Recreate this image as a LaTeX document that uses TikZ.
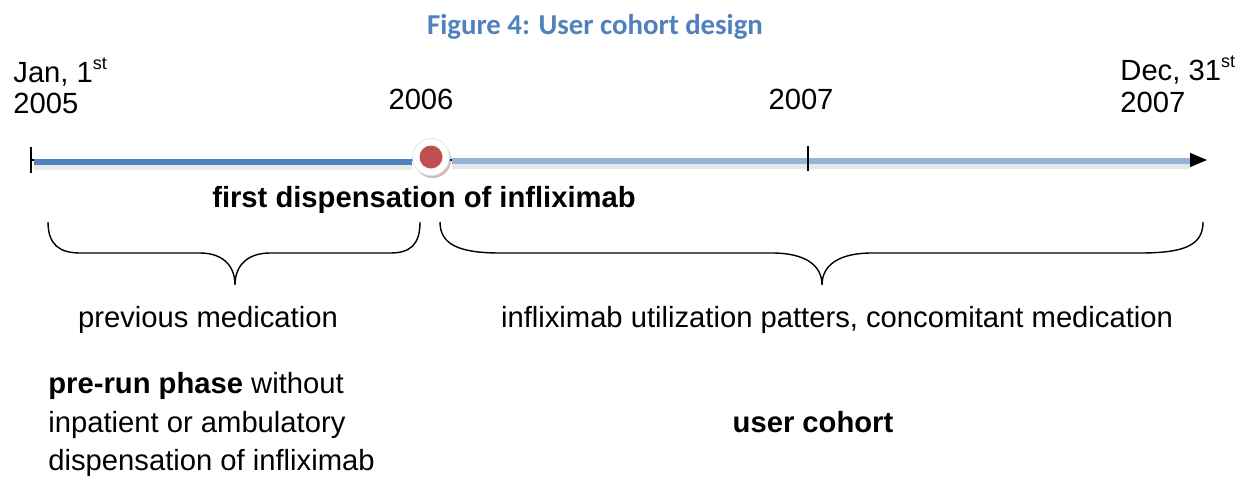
\documentclass[tikz,border=0pt]{standalone}
\usepackage{fontspec}
\setmainfont{Liberation Sans}
\newfontfamily\titlefont{Carlito}
\usetikzlibrary{arrows.meta,shadows}
\definecolor{darkblue}{HTML}{4F81BD}
\definecolor{lightblue}{HTML}{95B3D7}
\definecolor{dotred}{HTML}{C0504D}
\definecolor{titleblue}{HTML}{4F81BD}
\newcommand{\sups}[1]{\raisebox{0.42em}{\fontsize{9}{10}\selectfont #1}}
\begin{document}
\begin{tikzpicture}[x=0.5pt,y=-0.5pt,
  lbl/.style={inner sep=0pt, font=\fontsize{14.6}{17}\selectfont},
  blbl/.style={lbl, font=\fontsize{14.6}{17}\selectfont\bfseries},
  tick/.style={line width=0.75pt},
  bar/.style={line width=3pt},
  barshadow/.style={line width=3pt, black, opacity=0.09},
  brace/.style={line width=0.7pt},
  ring/.style={circle, fill=white, draw=black!10, line width=0.4pt, minimum size=18.5pt, inner sep=0pt,
    drop shadow={opacity=0.45, fill=dotred!45!gray, shadow xshift=0.9pt, shadow yshift=-1.3pt}},
  dot/.style={circle, fill=dotred, minimum size=11.5pt, inner sep=0pt}]
\useasboundingbox (0,0) rectangle (1251,477);

% title
\node[inner sep=0pt, font=\titlefont\bfseries\fontsize{14.4}{17}\selectfont, text=titleblue] (title) at (595,27) {Figure 4: User cohort design};

% timeline coordinates
\coordinate (start) at (31,160);
\coordinate (mid) at (808,160);
\coordinate (end) at (1207,160);

% shadows
\draw[barshadow] (34,167) -- (412,167);
\draw[barshadow] (452,166) -- (1190,166);

% axis
\draw[line width=0.6pt, -{Triangle[length=8.5pt, width=7pt]}] (start) -- (end);
\draw[bar, darkblue] (34,161.5) -- (412,161.5);
\draw[bar, lightblue] (452,161) -- (1190,161);
\draw[tick] (start) ++(0,-13) -- ++(0,26);
\draw[tick] (mid) ++(0,-14) -- ++(0,25);

\node[ring] (event) at (431,157) {};
\node[dot] (eventdot) at (event.center) {};

% date labels
\node[lbl, anchor=base west] (jan) at (13,82) {Jan, 1\sups{st}};
\node[lbl, anchor=base west] (y2005) at (13,113) {2005};
\node[lbl, anchor=base] (y2006) at (421,109) {2006};
\node[lbl, anchor=base] (y2007) at (801,109) {2007};
\node[lbl, anchor=base west] (dec) at (1120,80) {Dec, 31\sups{st}};
\node[lbl, anchor=base west] (y2007b) at (1120,112) {2007};

\node[blbl, anchor=base] (first) at (424,207) {first dispensation of infliximab};

% braces
\draw[brace] (48,222) .. controls (48,245) and (60,253) .. (80,253) -- (200,253)
  .. controls (222,253) and (235,265) .. (235,285)
  .. controls (235,265) and (248,253) .. (270,253) -- (390,253)
  .. controls (410,253) and (420,245) .. (420,222);
\draw[brace] (440,222) .. controls (440,245) and (460,253) .. (500,253) -- (772,253)
  .. controls (805,253) and (822,265) .. (822,285)
  .. controls (822,265) and (839,253) .. (872,253) -- (1140,253)
  .. controls (1185,253) and (1203,245) .. (1203,222);

\node[lbl, anchor=base] (prev) at (208,327) {previous medication};
\node[lbl, anchor=base] (util) at (837,327) {infliximab utilization patters, concomitant medication};

\node[lbl, anchor=base west] (pre1) at (48,393) {\bfseries pre-run phase\mdseries{} without};
\node[lbl, anchor=base west] (pre2) at (48,432) {inpatient or ambulatory};
\node[lbl, anchor=base west] (pre3) at (48,470) {dispensation of infliximab};
\node[blbl, anchor=base] (cohort) at (813,432) {user cohort};
\end{tikzpicture}
\end{document}
